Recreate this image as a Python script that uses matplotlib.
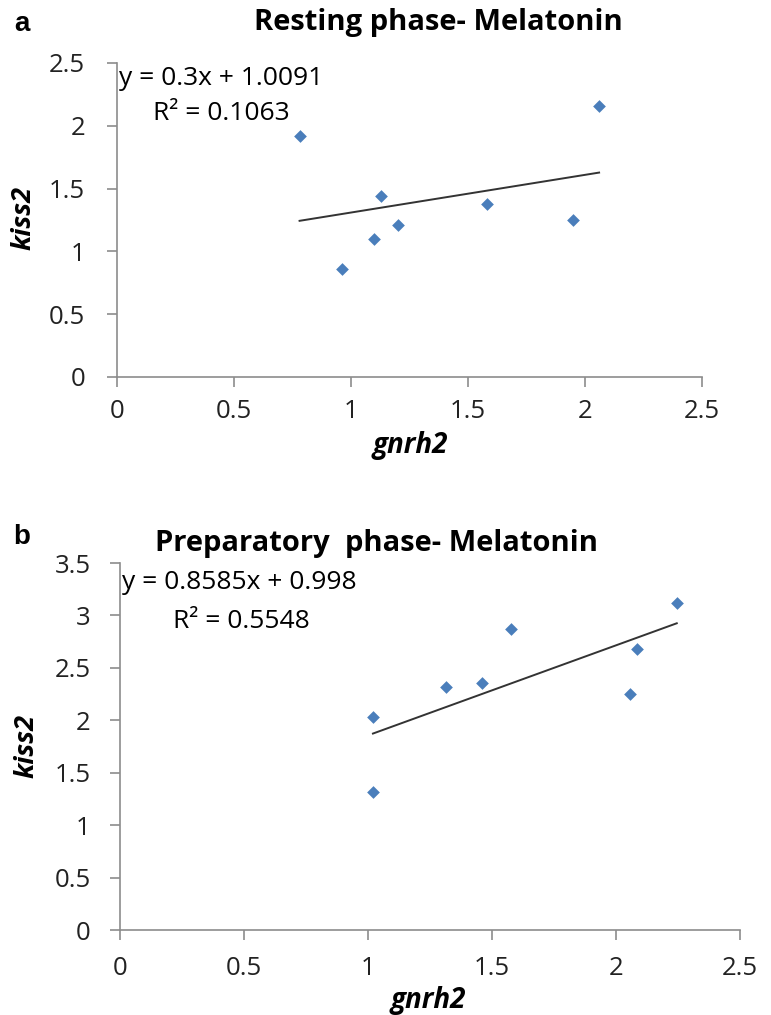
import matplotlib
matplotlib.use('Agg')
import matplotlib.pyplot as plt

# humanist sans, closer to the Calibri look of the original
FONT = ['Open Sans', 'DejaVu Sans']
plt.rcParams['font.family'] = FONT

# resting phase data
gnrh2_rest = [0.78, 0.96, 1.10, 1.13, 1.20, 1.58, 1.95, 2.06]
kiss2_rest = [1.92, 0.86, 1.10, 1.44, 1.21, 1.38, 1.25, 2.16]
slope_rest, icept_rest = 0.3, 1.0091
eq_rest = 'y = 0.3x + 1.0091'
r2_rest = 'R² = 0.1063'

# preparatory phase data
gnrh2_prep = [1.02, 1.02, 1.315, 1.46, 1.575, 2.055, 2.085, 2.245]
kiss2_prep = [2.03, 1.32, 2.32, 2.36, 2.87, 2.25, 2.68, 3.12]
slope_prep, icept_prep = 0.8585, 0.998
eq_prep = 'y = 0.8585x + 0.998'
r2_prep = 'R² = 0.5548'

x_ticks = [0, 0.5, 1, 1.5, 2, 2.5]
x_ticklabels = ['0', '0.5', '1', '1.5', '2', '2.5']
y_ticks_rest = [0, 0.5, 1, 1.5, 2, 2.5]
y_ticks_prep = [0, 0.5, 1, 1.5, 2, 2.5, 3, 3.5]

BLUE = '#4a7ebb'
GRAY = '#8c8c8c'

fig = plt.figure(figsize=(7.71, 10.15), dpi=100)


def draw_panel(ax, x, y, slope, icept, yticks, eq, r2, eq_pos, r2_pos,
               ypad, xpad):
    ax.scatter(x, y, marker='D', s=42, color=BLUE, zorder=3, linewidths=0)
    x0, x1 = min(x), max(x)
    ax.plot([x0, x1], [slope * x0 + icept, slope * x1 + icept],
            color='#333333', lw=1.4, zorder=2)

    ax.set_xlim(0, 2.5)
    ax.set_ylim(0, yticks[-1])
    ax.set_xticks(x_ticks)
    ax.set_xticklabels(x_ticklabels)
    ax.set_yticks(yticks)
    ax.set_yticklabels([('%g' % t) for t in yticks])

    for side in ['top', 'right']:
        ax.spines[side].set_visible(False)
    for side in ['left', 'bottom']:
        ax.spines[side].set_color(GRAY)
        ax.spines[side].set_linewidth(1.2)
    ax.tick_params(axis='both', direction='out', length=7, width=1.2,
                   color=GRAY, labelsize=18.5, labelcolor='#222222')
    ax.tick_params(axis='y', pad=ypad)
    ax.tick_params(axis='x', pad=xpad)

    ax.text(eq_pos[0], eq_pos[1], eq, fontsize=19, va='center', ha='left')
    ax.text(r2_pos[0], r2_pos[1], r2, fontsize=19, va='center', ha='left')


# panel a
ax1 = fig.add_axes([0.1518, 0.6286, 0.7588, 0.3094])
draw_panel(ax1, gnrh2_rest, kiss2_rest, slope_rest, icept_rest,
           y_ticks_rest, eq_rest, r2_rest, (0.008, 2.38), (0.155, 2.10),
           16, 9)

# panel b
ax2 = fig.add_axes([0.1556, 0.0837, 0.8042, 0.3616])
draw_panel(ax2, gnrh2_prep, kiss2_prep, slope_prep, icept_prep,
           y_ticks_prep, eq_prep, r2_prep, (0.01, 3.31), (0.215, 2.94),
           14, 12)

# titles, panel letters and axis labels
fig.text(0.569, 0.978, 'Resting phase- Melatonin', fontsize=21,
         fontweight='bold', ha='center', va='center')
fig.text(0.488, 0.465, 'Preparatory  phase- Melatonin', fontsize=21,
         fontweight='bold', ha='center', va='center')
fig.text(0.028, 0.976, 'a', fontsize=20, fontweight='bold', ha='center',
         va='center', family=['Liberation Sans', 'DejaVu Sans'])
fig.text(0.028, 0.471, 'b', fontsize=20, fontweight='bold', ha='center',
         va='center', family=['Liberation Sans', 'DejaVu Sans'])

fig.text(0.031, 0.785, 'kiss2', fontsize=19.5, fontweight='bold',
         style='italic', rotation=90, ha='center', va='center')
fig.text(0.035, 0.265, 'kiss2', fontsize=19.5, fontweight='bold',
         style='italic', rotation=90, ha='center', va='center')
fig.text(0.532, 0.561, 'gnrh2', fontsize=20, fontweight='bold',
         style='italic', ha='center', va='center')
fig.text(0.555, 0.014, 'gnrh2', fontsize=20, fontweight='bold',
         style='italic', ha='center', va='center')

fig.savefig('out.png', dpi=100)
